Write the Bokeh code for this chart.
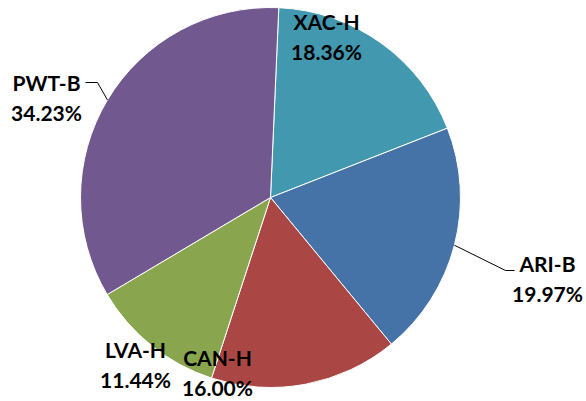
import math
from bokeh.plotting import figure
from bokeh.models import Range1d, ColumnDataSource
from bokeh.core.properties import value
from bokeh.embed import file_html
from bokeh.resources import INLINE

# ---- data ----
categories = ["XAC-H", "ARI-B", "CAN-H", "LVA-H", "PWT-B"]
shares = [18.36, 19.97, 16.00, 11.44, 34.23]
colors = ["#4198AF", "#4572A7", "#AA4643", "#89A54E", "#71588F"]

# ---- layout (picture pixel coords, y downwards) ----
W, H = 586, 401
CX, CY, R = 270, 197, 190
START_OFFSET = 2.5  # degrees clockwise from 12 o'clock

label_pos = {
    "XAC-H": (326, 21),
    "ARI-B": (547, 263),
    "CAN-H": (217, 357),
    "LVA-H": (135, 349),
    "PWT-B": (46, 82),
}
LINE_GAP = 30
leaders = {
    "ARI-B": [(505, 270), (514, 270)],
    "PWT-B": [(97, 82), (85, 82)],
}


def Y(py):
    return H - py


p = figure(width=W, height=H, output_backend="svg", toolbar_location=None,
           x_range=Range1d(0, W), y_range=Range1d(0, H),
           min_border=0, outline_line_color=None)
p.axis.visible = False
p.grid.visible = False
p.background_fill_color = "white"
p.border_fill_color = "white"

total = sum(shares)
starts, ends, mids = [], [], []
cum = 0.0
for v in shares:
    a0 = START_OFFSET + cum / total * 360.0
    cum += v
    a1 = START_OFFSET + cum / total * 360.0
    starts.append(math.radians(90 - a1))
    ends.append(math.radians(90 - a0))
    mids.append((a0 + a1) / 2)

src = ColumnDataSource(dict(cat=categories, start=starts, end=ends, color=colors))
p.wedge(x=CX, y=Y(CY), radius=R, start_angle="start", end_angle="end",
        direction="anticlock", fill_color="color", line_color="white",
        line_width=1, source=src)

for i, c in enumerate(categories):
    if c in leaders:
        m = math.radians(mids[i])
        ex = CX + R * math.sin(m)
        ey = CY - R * math.cos(m)
        pts = [(ex, ey)] + leaders[c]
        p.line([q[0] for q in pts], [Y(q[1]) for q in pts], line_color="black", line_width=1)

names_x, names_y, pct_y, pct_txt = [], [], [], []
for i, c in enumerate(categories):
    lx, ly = label_pos[c]
    names_x.append(lx)
    names_y.append(Y(ly))
    pct_y.append(Y(ly + LINE_GAP))
    pct_txt.append(f"{shares[i]:.2f}%")

for ys, txt in ((names_y, categories), (pct_y, pct_txt)):
    p.text(x=names_x, y=ys, text=txt, text_align="center", text_baseline="middle",
           text_font=value("Lato"), text_font_style="bold", text_font_size="21px",
           text_color="black")

open("out.html", "w").write(file_html(p, INLINE))
